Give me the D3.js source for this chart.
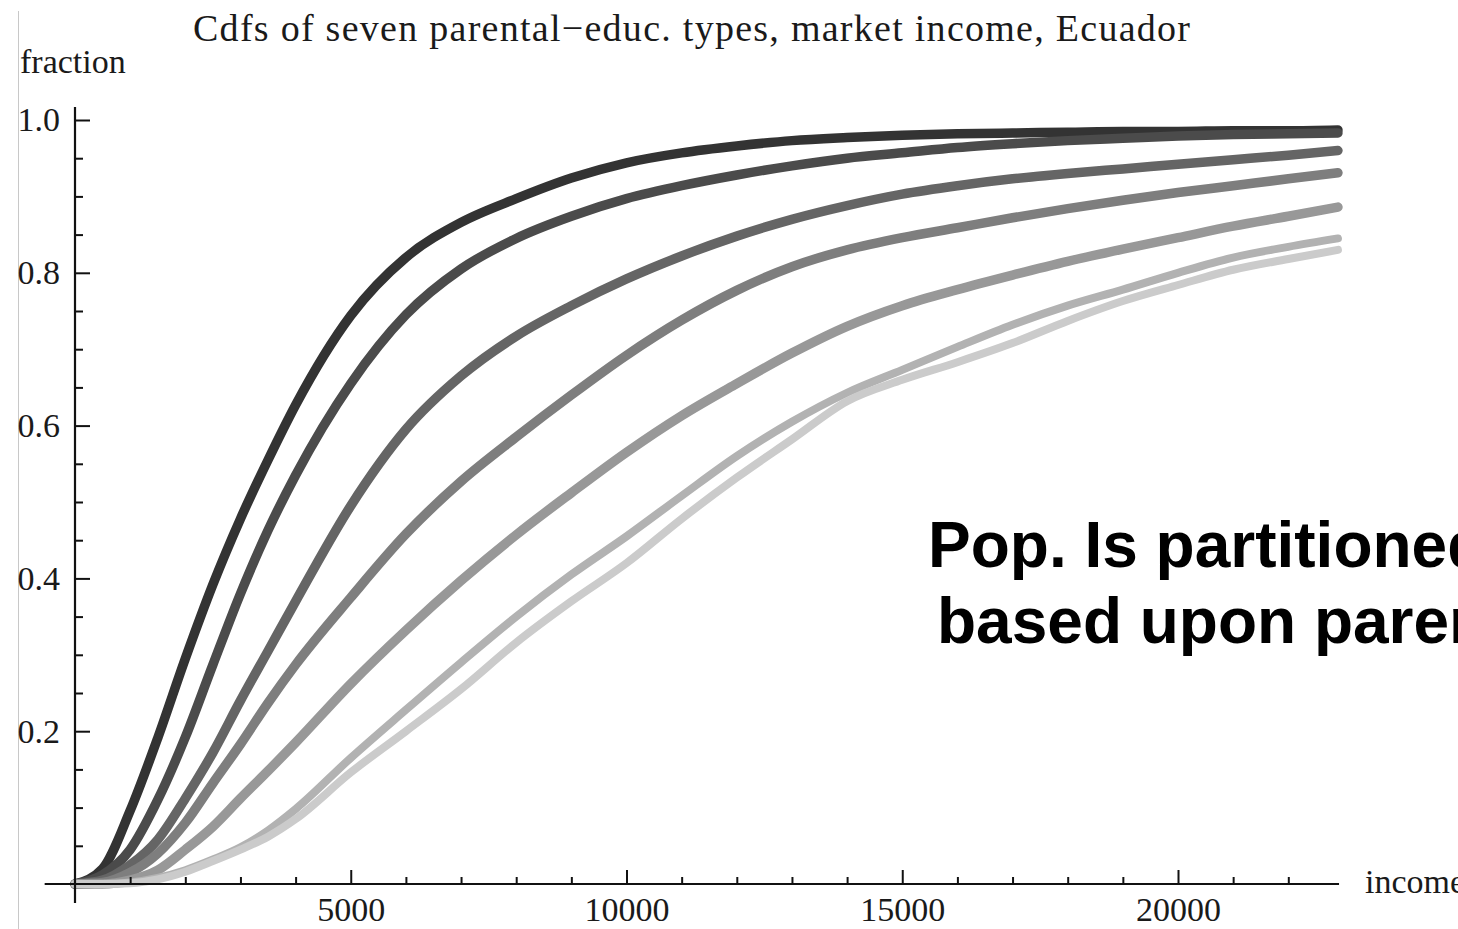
<!DOCTYPE html>
<html>
<head>
<meta charset="utf-8">
<script src="https://cdn.jsdelivr.net/npm/d3@7"></script>
<style>
  body { margin: 0; background: #fff; overflow: hidden; }
  text { font-family: "Liberation Serif", "Times New Roman", serif; fill: #1a1a1a; }
</style>
</head>
<body>
<div id="chart"></div>
<script>
// income grid (x values shared by every type)
var incomes = [0, 500, 1000, 1500, 2000, 2500, 3000, 3500, 4000, 5000, 6000, 7000, 8000, 9000,
               10000, 11000, 12000, 13000, 14000, 15000, 16000, 17000, 18000, 19000, 20000,
               21000, 22000, 22900];

// cdf of each parental-education type
var type1 = [0, 0.020, 0.096, 0.191, 0.295, 0.392, 0.478, 0.555, 0.627, 0.744, 0.820, 0.866, 0.897, 0.924,
             0.944, 0.957, 0.966, 0.973, 0.977, 0.980, 0.982, 0.983, 0.984, 0.985, 0.985, 0.986, 0.986, 0.987];
var type2 = [0, 0.012, 0.045, 0.110, 0.192, 0.287, 0.380, 0.463, 0.535, 0.655, 0.745, 0.805, 0.845, 0.874,
             0.897, 0.914, 0.928, 0.940, 0.950, 0.957, 0.964, 0.969, 0.973, 0.976, 0.979, 0.981, 0.982, 0.983];
var type3 = [0, 0.005, 0.025, 0.058, 0.112, 0.172, 0.240, 0.305, 0.370, 0.495, 0.595, 0.665, 0.717, 0.757,
             0.792, 0.822, 0.848, 0.870, 0.888, 0.903, 0.914, 0.923, 0.930, 0.936, 0.942, 0.948, 0.954, 0.960];
var type4 = [0, 0.002, 0.015, 0.040, 0.080, 0.132, 0.183, 0.237, 0.287, 0.375, 0.458, 0.527, 0.585, 0.640,
             0.692, 0.738, 0.777, 0.808, 0.830, 0.846, 0.859, 0.872, 0.884, 0.895, 0.905, 0.914, 0.923, 0.931];
var type5 = [0, 0, 0.005, 0.018, 0.045, 0.075, 0.112, 0.148, 0.185, 0.262, 0.332, 0.397, 0.457, 0.512,
             0.565, 0.613, 0.655, 0.695, 0.730, 0.757, 0.778, 0.797, 0.815, 0.831, 0.846, 0.861, 0.874, 0.886];
var type6 = [0, 0, 0.002, 0.008, 0.018, 0.032, 0.048, 0.070, 0.098, 0.165, 0.228, 0.290, 0.350, 0.405,
             0.455, 0.508, 0.560, 0.605, 0.643, 0.673, 0.703, 0.732, 0.757, 0.778, 0.800, 0.820, 0.834, 0.845];
var type7 = [0, 0, 0.001, 0.006, 0.016, 0.030, 0.045, 0.062, 0.085, 0.146, 0.200, 0.255, 0.316, 0.370,
             0.420, 0.478, 0.532, 0.582, 0.632, 0.660, 0.683, 0.708, 0.737, 0.763, 0.784, 0.804, 0.818, 0.830];

var allTypes = [type1, type2, type3, type4, type5, type6, type7];
var greys = ["#333333", "#4b4b4b", "#656565", "#7e7e7e", "#989898", "#b2b2b2", "#cbcbcb"];

var yTickValues = [0.2, 0.4, 0.6, 0.8, 1.0];
var xTickValues = [5000, 10000, 15000, 20000];

var width = 1458, height = 929;

var svg = d3.select("#chart")
  .append("svg")
  .attr("width", width)
  .attr("height", height);

// scales: 0 -> 75px, 20000 -> 1178px ; 0 -> 884px, 1 -> 120px
var x = d3.scaleLinear().domain([0, 20000]).range([75, 1178]);
var y = d3.scaleLinear().domain([0, 1]).range([884, 120]);

// thin frame line on the left
svg.append("line")
  .attr("x1", 18.5).attr("x2", 18.5)
  .attr("y1", 11).attr("y2", height)
  .attr("stroke", "#c8c8c8")
  .attr("stroke-width", 1);

// curves
var line = d3.line()
  .x(function(d) { return x(d.income); })
  .y(function(d) { return y(d.fraction); })
  .curve(d3.curveMonotoneX);

allTypes.forEach(function(values, i) {
  var pts = incomes.map(function(v, j) { return {income: v, fraction: values[j]}; });
  svg.append("path")
    .datum(pts)
    .attr("d", line)
    .attr("fill", "none")
    .attr("stroke", greys[i])
    .attr("stroke-width", i < 5 ? 9.5 : 8)
    .attr("stroke-linejoin", "round")
    .attr("stroke-linecap", "round");
});

// axis lines (they reach a bit past the data range)
svg.append("line")
  .attr("x1", x(-550)).attr("x2", x(22920))
  .attr("y1", y(0)).attr("y2", y(0))
  .attr("stroke", "#111").attr("stroke-width", 2.2);
svg.append("line")
  .attr("x1", x(0)).attr("x2", x(0))
  .attr("y1", y(-0.025)).attr("y2", y(1.017))
  .attr("stroke", "#111").attr("stroke-width", 2.2);

// y axis major + minor ticks
var yMinor = d3.range(0.05, 1.0001, 0.05).filter(function(v) {
  return Math.abs(v * 5 - Math.round(v * 5)) > 1e-6;
});
svg.append("g")
  .attr("transform", "translate(" + x(0) + ",0)")
  .call(d3.axisLeft(y).tickValues(yMinor).tickSize(-8).tickFormat(""))
  .call(function(g) { g.select(".domain").remove(); })
  .selectAll("line").attr("stroke", "#111").attr("stroke-width", 2);

svg.append("g")
  .attr("transform", "translate(" + x(0) + ",0)")
  .call(d3.axisLeft(y).tickValues(yTickValues).tickSizeInner(-15).tickSizeOuter(0)
        .tickPadding(15).tickFormat(d3.format(".1f")))
  .call(function(g) { g.select(".domain").remove(); })
  .call(function(g) {
    g.selectAll("line").attr("stroke", "#111").attr("stroke-width", 2);
    g.selectAll("text").attr("font-size", 34).attr("fill", "#1a1a1a")
      .style("font-family", "'Liberation Serif', 'Times New Roman', serif");
  });

// x axis major + minor ticks
var xMinor = d3.range(1000, 22001, 1000).filter(function(v) { return v % 5000 !== 0; });
svg.append("g")
  .attr("transform", "translate(0," + y(0) + ")")
  .call(d3.axisBottom(x).tickValues(xMinor).tickSize(-7).tickFormat(""))
  .call(function(g) { g.select(".domain").remove(); })
  .selectAll("line").attr("stroke", "#111").attr("stroke-width", 2);

svg.append("g")
  .attr("transform", "translate(0," + y(0) + ")")
  .call(d3.axisBottom(x).tickValues(xTickValues).tickSizeInner(-14).tickSizeOuter(0)
        .tickPadding(13).tickFormat(d3.format("d")))
  .call(function(g) { g.select(".domain").remove(); })
  .call(function(g) {
    g.selectAll("line").attr("stroke", "#111").attr("stroke-width", 2);
    g.selectAll("text").attr("font-size", 34).attr("fill", "#1a1a1a")
      .style("font-family", "'Liberation Serif', 'Times New Roman', serif");
  });

// titles and axis labels
svg.append("text")
  .attr("x", 193).attr("y", 41)
  .attr("font-size", 38)
  .attr("textLength", 997)
  .attr("lengthAdjust", "spacing")
  .text("Cdfs of seven parental\u2212educ. types, market income, Ecuador");

svg.append("text")
  .attr("x", 20).attr("y", 73)
  .attr("font-size", 34)
  .text("fraction");

svg.append("text")
  .attr("x", 1365).attr("y", 893)
  .attr("font-size", 34)
  .text("income");

// annotation (runs off the right edge like the slide it was cut from)
svg.append("text")
  .attr("x", 928).attr("y", 567)
  .attr("font-size", 64)
  .attr("font-weight", "bold")
  .style("font-family", "'Liberation Sans', Arial, Helvetica, sans-serif")
  .style("fill", "#000")
  .text("Pop. Is partitioned");

svg.append("text")
  .attr("x", 937).attr("y", 643)
  .attr("font-size", 64)
  .attr("font-weight", "bold")
  .style("font-family", "'Liberation Sans', Arial, Helvetica, sans-serif")
  .style("fill", "#000")
  .text("based upon parental");
</script>
</body>
</html>
